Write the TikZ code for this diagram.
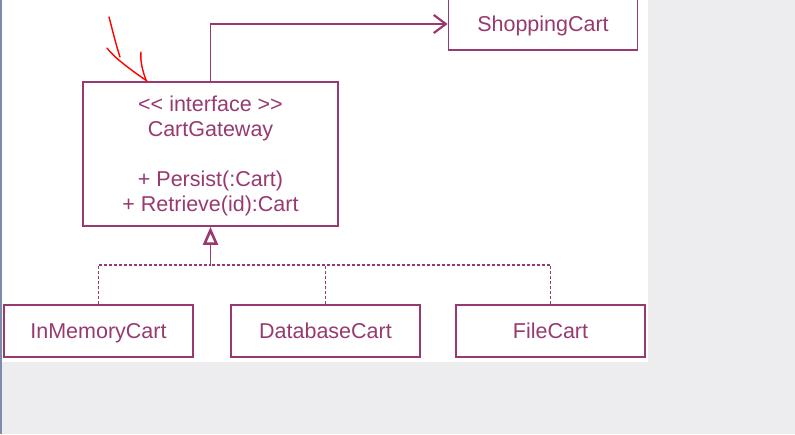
\documentclass[tikz,border=0pt]{standalone}
\usepackage{fontspec}
\setmainfont{Liberation Sans}
\usetikzlibrary{arrows.meta}
\definecolor{umlpurple}{RGB}{152,58,112}
\definecolor{pagegray}{RGB}{237,237,240}
\definecolor{edgeblue}{RGB}{125,140,170}

\begin{document}
\begin{tikzpicture}[
        x=1pt, y=-1pt,
        every node/.style={font=\fontsize{21.5}{25}\selectfont, text=umlpurple},
        classbox/.style={rectangle, draw=umlpurple, line width=1.8pt, fill=white, inner sep=0pt, text depth=0pt, minimum width=189pt, minimum height=52pt},
        ifacebox/.style={classbox, minimum width=255pt, minimum height=144pt, align=center},
        assoc/.style={draw=umlpurple, line width=1.8pt, -{Straight Barb[length=12pt, width=18pt, line width=2.2pt]}},
        realize/.style={draw=umlpurple, line width=1.4pt, dash pattern=on 3pt off 2pt},
        generalize/.style={draw=umlpurple, line width=1.8pt, -{Triangle[open, length=18pt, width=15pt, line width=2.6pt]}},
        scribble/.style={draw=red, line width=1.4pt, line cap=round}
        ]

        % Canvas: grey page, white drawing area
        \useasboundingbox (0,0) rectangle (795,434);
        \fill[pagegray] (0,0) rectangle (795,434);
        \fill[white] (0,0) rectangle (648,362);
        \fill[edgeblue] (0,0) rectangle (1.5,434);

        % Classes
        \node[classbox] (cart) at (543, 24) {ShoppingCart};
        \node[ifacebox] (gateway) at (210.5, 154) {{<}{<} interface {>}{>}\\CartGateway\\[25pt]+ Persist(:Cart)\\+ Retrieve(id):Cart};
        \node[classbox] (memory) at (98.5, 331) {InMemoryCart};
        \node[classbox] (database) at (325.5, 331) {DatabaseCart};
        \node[classbox] (file) at (550.5, 331) {FileCart};

        % Association to ShoppingCart
        \draw[assoc] (gateway.north) |- (cart.west);

        % Realisation of the interface
        \coordinate (join) at (210.5, 265);
        \draw[realize] (memory.north) |- (join);
        \draw[realize] (file.north) |- (join);
        \draw[realize] (database.north) -- (database.north |- join);
        \draw[generalize] (join) -- (gateway.south);

        % Hand-drawn red marker
        \draw[scribble] (109, 17) .. controls (113, 32) and (116, 45) .. (120, 57);
        \draw[scribble] (107, 48) .. controls (112, 55) and (125, 66) .. (147, 81);
        \draw[scribble] (141, 52) .. controls (140, 62) and (143, 72) .. (146, 80);

    \end{tikzpicture}
\end{document}
